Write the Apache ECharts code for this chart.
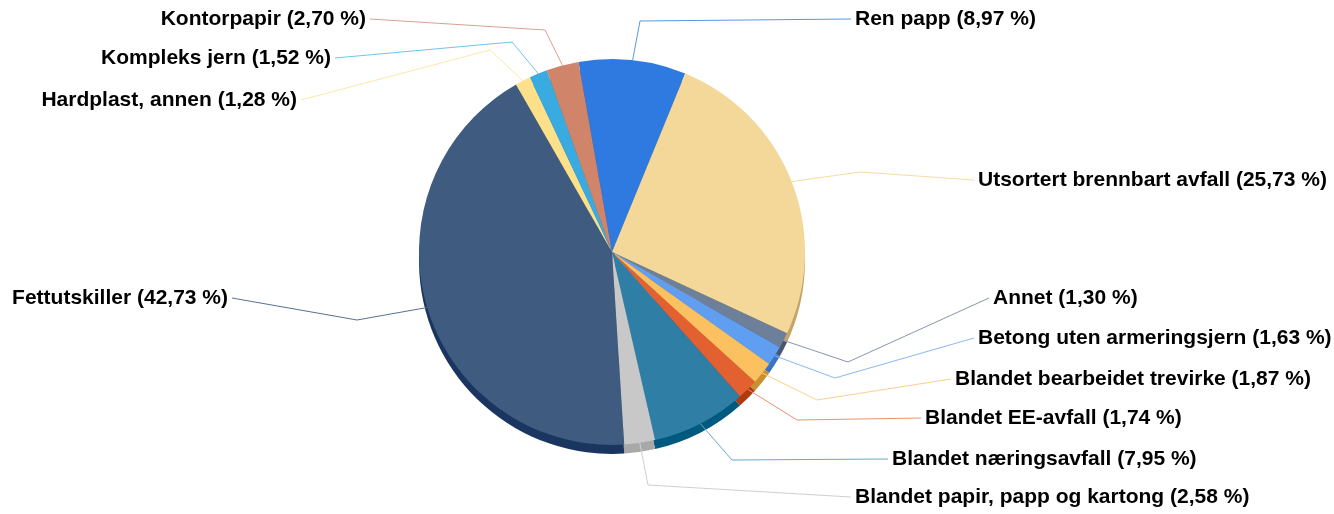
<!DOCTYPE html>
<html>
<head>
<meta charset="utf-8">
<script src="https://cdn.jsdelivr.net/npm/echarts@6/dist/echarts.min.js"></script>
<style>
html,body{margin:0;padding:0;background:#fff;}
#chart{width:1334px;height:514px;}
</style>
</head>
<body>
<div id="chart"></div>
<script>
// ---- data ----
const categories = [
  'Ren papp',
  'Utsortert brennbart avfall',
  'Annet',
  'Betong uten armeringsjern',
  'Blandet bearbeidet trevirke',
  'Blandet EE-avfall',
  'Blandet næringsavfall',
  'Blandet papir, papp og kartong',
  'Fettutskiller',
  'Hardplast, annen',
  'Kompleks jern',
  'Kontorpapir'
];
const shares = [8.97, 25.73, 1.30, 1.63, 1.87, 1.74, 7.95, 2.58, 42.73, 1.28, 1.52, 2.70];

// ---- styles ----
const topColors = ['#2e7ae0','#f3d89a','#6e7f99','#5f9ef0','#fbc060','#e36030','#2e7ea6','#c8c8c8','#3f5b80','#fde08a','#3aabe0','#d0846a'];
const sideColors = ['#1a55a8','#c4a468','#4a5670','#3a74c0','#c8902e','#b03a10','#005a80','#a8a8a8','#1a3560','#c8aa50','#1a7fb0','#a05a40'];
const lineColors = ['#5a96e6','#f7dca0','#8a96aa','#8ab8f2','#fcd08a','#ee9070','#6aa8c8','#d0d0d0','#5a7090','#fde8a8','#70c4ea','#dca090'];

// ---- label layout (text anchor and knee of the leader line) ----
const labelPos = [
  {x:855, y:19, knee:[640,21], side:'r'},
  {x:978, y:180, knee:[860,172], side:'r'},
  {x:993, y:298, knee:[848,362], side:'r'},
  {x:978, y:338, knee:[835,378], side:'r'},
  {x:955, y:379, knee:[817,400], side:'r'},
  {x:925, y:418, knee:[797,420], side:'r'},
  {x:892, y:459, knee:[732,460], side:'r'},
  {x:855, y:497, knee:[648,485], side:'r'},
  {x:228, y:298, knee:[357,320], side:'l'},
  {x:297, y:100, knee:[490,50], side:'l'},
  {x:331, y:58, knee:[512,42], side:'l'},
  {x:366, y:19, knee:[545,30], side:'l'}
];

const center = [612, 252];
const radius = 193;
const depth = 9;

const chart = echarts.init(document.getElementById('chart'), null, {renderer:'canvas'});

const topData = categories.map((c,i)=>({name:c, value:shares[i], itemStyle:{color:topColors[i]}, labelLine:{lineStyle:{color:lineColors[i]}}}));
const sideData = categories.map((c,i)=>({name:c, value:shares[i], itemStyle:{color:sideColors[i]}}));

function fmt(v){ return v.toFixed(2).replace('.', ',') + ' %'; }

chart.setOption({
  animation:false,
  backgroundColor:'#ffffff',
  series:[
    {
      type:'pie',
      z:1,
      silent:true,
      center:[center[0], center[1]+depth],
      radius:radius,
      startAngle:100,
      clockwise:true,
      avoidLabelOverlap:false,
      label:{show:false},
      labelLine:{show:false},
      data:sideData
    },
    {
      type:'pie',
      z:2,
      center:center,
      radius:radius,
      startAngle:100,
      clockwise:true,
      avoidLabelOverlap:false,
      label:{
        show:true,
        position:'outside',
        formatter:p=>p.name + ' (' + fmt(p.value) + ')',
        fontFamily:'Liberation Sans, Arial, sans-serif',
        fontWeight:'bold',
        fontSize:21,
        color:'#000'
      },
      labelLine:{show:true, length:10, length2:10, lineStyle:{width:1}},
      labelLayout:function(params){
        const i = params.dataIndex;
        const L = labelPos[i];
        const pts = params.labelLinePoints;
        const start = pts ? pts[0] : L.knee;
        const endX = L.side === 'r' ? L.x - 4 : L.x + 4;
        return {
          x:L.x,
          y:L.y,
          align:L.side === 'r' ? 'left' : 'right',
          verticalAlign:'middle',
          labelLinePoints:[start, L.knee, [endX, L.y]]
        };
      },
      data:topData
    }
  ]
});
</script>
</body>
</html>
